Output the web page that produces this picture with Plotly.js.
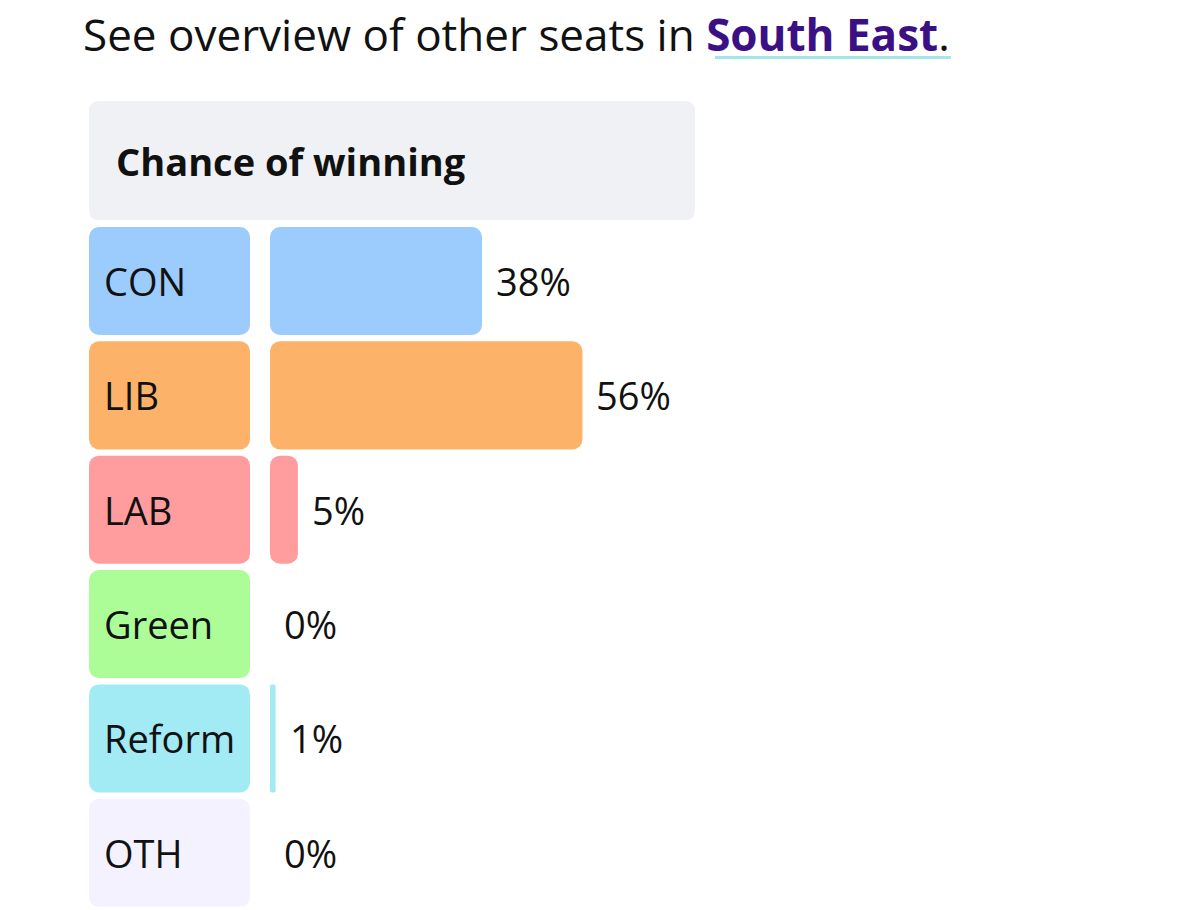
<!DOCTYPE html>
<html>
<head>
<meta charset="utf-8">
<script src="https://cdn.plot.ly/plotly-3.0.1.min.js"></script>
<style>
html,body{margin:0;padding:0;background:#fff;}
#chart{width:1200px;height:910px;}
</style>
</head>
<body>
<div id="chart"></div>
<script>
// ---- data ----
var parties = ["CON", "LIB", "LAB", "Green", "Reform", "OTH"];
var chance = [38, 56, 5, 0, 1, 0];
var chanceLabels = ["38%", "56%", "5%", "0%", "1%", "0%"];
var partyColors = ["#9ccbfd", "#fdb26a", "#ff9d9e", "#acfd98", "#a2eaf4", "#f4f2fe"];
var headerText = "See overview of other seats in ";
var regionName = "South East";
var boxTitle = "Chance of winning";

var W = 1200, H = 910;
function px(x){ return x / W; }
function py(y){ return 1 - y / H; }

var FONT = "'Open Sans', 'Noto Sans', sans-serif";

function roundRect(x0, y0, x1, y1, r){
  var rx = r / W, ry = r / H;
  var X0 = px(x0), X1 = px(x1), Y0 = py(y0), Y1 = py(y1);
  return "M" + (X0 + rx) + "," + Y0 +
    " L" + (X1 - rx) + "," + Y0 +
    " Q" + X1 + "," + Y0 + " " + X1 + "," + (Y0 - ry) +
    " L" + X1 + "," + (Y1 + ry) +
    " Q" + X1 + "," + Y1 + " " + (X1 - rx) + "," + Y1 +
    " L" + (X0 + rx) + "," + Y1 +
    " Q" + X0 + "," + Y1 + " " + X0 + "," + (Y1 + ry) +
    " L" + X0 + "," + (Y0 - ry) +
    " Q" + X0 + "," + Y0 + " " + (X0 + rx) + "," + Y0 + " Z";
}

// An explicit base makes Plotly round both ends of each bar.
var zeros = parties.map(function(){ return 0; });
var full = parties.map(function(){ return 1; });

var traces = [
  {
    type: "bar", orientation: "h", y: parties, x: full, base: zeros,
    xaxis: "x2", yaxis: "y",
    marker: { color: partyColors, cornerradius: 10, line: { width: 0 } },
    hoverinfo: "skip", showlegend: false
  },
  {
    type: "bar", orientation: "h", y: parties, x: chance, base: zeros,
    xaxis: "x", yaxis: "y",
    marker: { color: partyColors, cornerradius: 10, line: { width: 0 } },
    hoverinfo: "skip", showlegend: false
  }
];

var annotations = [];
parties.forEach(function(p, i){
  annotations.push({
    x: 0, y: p, xref: "x2", yref: "y",
    xanchor: "left", yanchor: "middle", xshift: 13,
    text: p, showarrow: false,
    font: { family: FONT, size: 38, color: "#111111" }
  });
  annotations.push({
    x: chance[i], y: p, xref: "x", yref: "y",
    xanchor: "left", yanchor: "middle", xshift: 12,
    text: chanceLabels[i], showarrow: false,
    font: { family: FONT, size: 38, color: "#111111" }
  });
});
annotations.push({
  x: px(81), y: py(34.5), xref: "paper", yref: "paper",
  xanchor: "left", yanchor: "middle",
  text: headerText + "<b><span style='color:#3a1084'>" + regionName + "</span></b>.",
  showarrow: false,
  font: { family: FONT, size: 44, color: "#111111" }
});
annotations.push({
  x: px(114), y: py(161), xref: "paper", yref: "paper",
  xanchor: "left", yanchor: "middle",
  text: "<b>" + boxTitle + "</b>",
  showarrow: false,
  font: { family: FONT, size: 38, color: "#111111" }
});

var hidden = {
  showgrid: false, zeroline: false, showticklabels: false, showline: false,
  ticks: "", fixedrange: true
};

var layout = {
  width: W, height: H,
  margin: { l: 0, r: 0, t: 0, b: 0, pad: 0 },
  paper_bgcolor: "#ffffff",
  plot_bgcolor: "rgba(0,0,0,0)",
  showlegend: false,
  barmode: "overlay",
  bargap: 0.055,
  xaxis: Object.assign({}, hidden, { domain: [px(270), px(828)], range: [0, 100] }),
  xaxis2: Object.assign({}, hidden, { domain: [px(89), px(250)], range: [0, 1], anchor: "y" }),
  yaxis: Object.assign({}, hidden, {
    domain: [0, py(223.8)], type: "category", autorange: "reversed"
  }),
  shapes: [
    {
      type: "path", xref: "paper", yref: "paper",
      path: roundRect(89, 101, 695, 220, 10),
      fillcolor: "#f0f1f4", line: { width: 0 }, layer: "below"
    },
    {
      type: "line", xref: "paper", yref: "paper",
      x0: px(715), x1: px(951), y0: py(57.5), y1: py(57.5),
      line: { color: "#a3e6ea", width: 3 }
    }
  ],
  annotations: annotations
};

Plotly.newPlot("chart", traces, layout, { displayModeBar: false, staticPlot: true });
</script>
</body>
</html>
